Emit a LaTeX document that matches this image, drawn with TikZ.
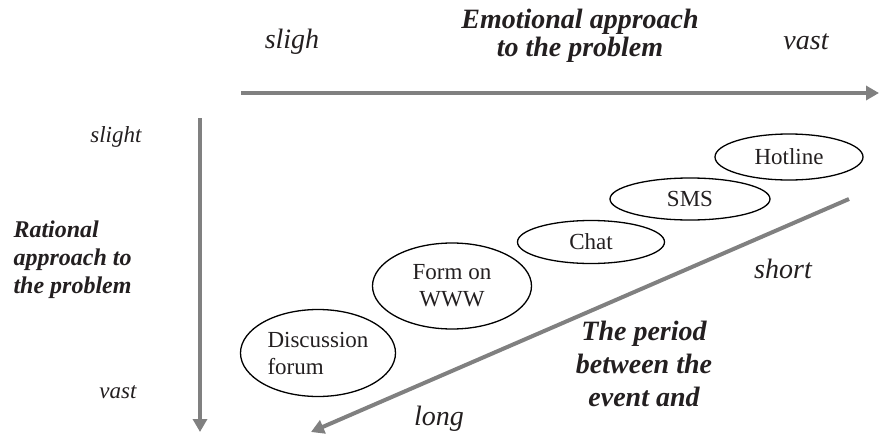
\documentclass[tikz,border=0pt]{standalone}
\usepackage{fontspec}
\setmainfont{Liberation Serif}
\usetikzlibrary{positioning, arrows.meta, shapes.geometric}
\definecolor{axisgray}{RGB}{128,128,128}
\definecolor{inkdark}{RGB}{35,31,32}

\begin{document}
\begin{tikzpicture}[x=1pt, y=-1pt, on grid,
	bubble/.style={ellipse, draw=black, line width=1.3pt, inner sep=0pt, text=inkdark, align=center, font=\fontsize{23}{27}\selectfont},
	axis/.style={draw=axisgray, line width=4pt, -{Triangle[width=14pt,length=13pt]}},
	tag/.style={text=inkdark, font=\fontsize{23}{27}\selectfont\itshape},
	bigtag/.style={text=inkdark, font=\fontsize{28}{33}\selectfont\itshape},
	heading/.style={text=inkdark, font=\bfseries\itshape}]
	\useasboundingbox (0,0) rectangle (879,434);

	% channels, from fast to slow
	\node[bubble, minimum width=148pt, minimum height=46pt] (hot) at (789,157) {Hotline};
	\node[bubble, minimum width=160pt, minimum height=42pt, below left=42pt and 99pt of hot] (sms) {SMS};
	\node[bubble, minimum width=147pt, minimum height=43pt, below left=43pt and 99pt of sms] (chat) {Chat};
	\node[bubble, minimum width=159pt, minimum height=86pt, below left=44pt and 139pt of chat] (form) {Form on\\WWW};
	\node[bubble, align=left, minimum width=155pt, minimum height=87pt, below left=67pt and 134pt of form] (forum) {Discussion\\forum};

	% axes
	\coordinate (hL) at (241,93);
	\coordinate (hR) at (879,93);
	\coordinate (vT) at (200,118);
	\coordinate (vB) at (200,432);
	\coordinate (dR) at (849,199);
	\coordinate (dL) at (311,432);
	\draw[axis] (hL) -- (hR);
	\draw[axis] (vT) -- (vB);
	\draw[axis] (dR) -- (dL);

	% labels
	\node[bigtag] (emoLow) at (292,42) {sligh};
	\node[bigtag] (emoHigh) at (806,42) {vast};
	\node[heading, align=center, font=\fontsize{28}{28}\selectfont\bfseries\itshape] (emo) at (580,36) {Emotional approach\\to the problem};
	\node[tag, anchor=east] (ratLow) at (145,137) {slight};
	\node[tag, anchor=east] (ratHigh) at (140,392) {vast};
	\node[heading, anchor=west, align=left, font=\fontsize{24}{28}\selectfont\bfseries\itshape] (rat) at (10,260) {Rational\\approach to\\the problem};
	\node[bigtag] (timeShort) at (783,269) {short};
	\node[bigtag] (timeLong) at (439,419) {long};
	\node[heading, align=center, font=\fontsize{28}{33}\selectfont\bfseries\itshape] (period) at (644,364) {The period\\between the\\event and};
\end{tikzpicture}
\end{document}
